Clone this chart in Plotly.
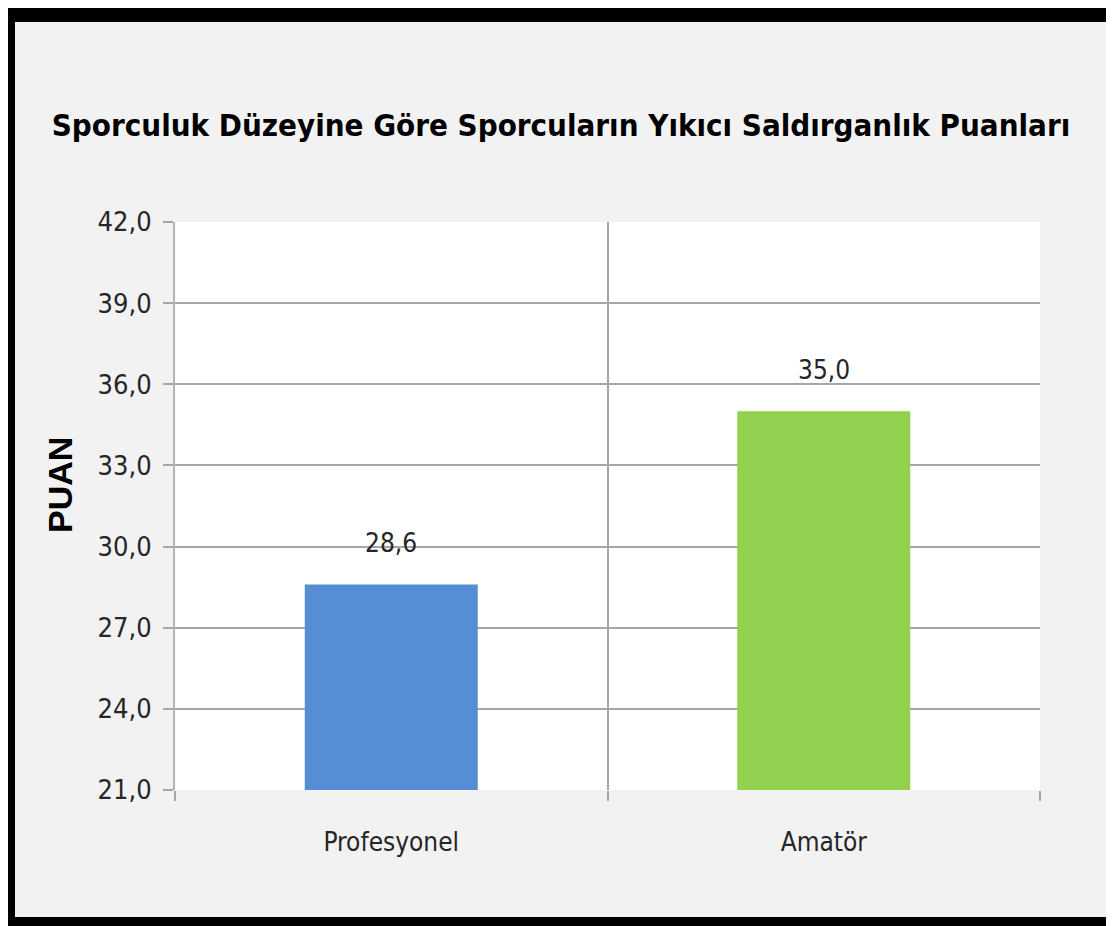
import plotly.graph_objects as go

# data
categories = ['Profesyonel', 'Amatör']
puan = [28.6, 35.0]
bar_colors = ['#558ed5', '#92d050']

title_text = 'Sporculuk Düzeyine Göre Sporcuların Yıkıcı Saldırganlık Puanları'
y_title = 'PUAN'

# the page body adds 8px around the figure
W, H = 1106, 918
L, R, T, B = 167, 1032, 214, 782   # plot area in figure pixels

narrow = 'DejaVu Sans Condensed, Liberation Sans Narrow, Arial Narrow, sans-serif'


def px(x):
    return (x - L) / (R - L)


def py(y):
    return (B - y) / (B - T)


fig = go.Figure()
fig.add_trace(go.Bar(
    x=categories,
    y=puan,
    marker=dict(color=bar_colors, line=dict(width=0)),
    width=0.4,
    showlegend=False,
))

# value labels above the bars
for c, v in zip(categories, puan):
    fig.add_annotation(x=c, y=v, text=f'{v:.1f}'.replace('.', ','),
                       showarrow=False, yanchor='bottom', yshift=24,
                       font=dict(family=narrow, size=26, color='#262626'))

# y axis title, sits a bit above the middle of the plot
fig.add_annotation(xref='paper', yref='paper', x=px(52), y=py(477),
                   text=y_title, textangle=-90, showarrow=False,
                   xanchor='center', yanchor='middle',
                   font=dict(family='Liberation Sans, Arial, sans-serif', size=34,
                             color='black', weight='bold'))

# black frame around the chart area
frame = [
    (0, 0, W, 14),
    (0, 0, 7, H),
    (1100, 0, W, H),
    (0, 909, W, H),
]
shapes = []
for x0, y0, x1, y1 in frame:
    shapes.append(dict(type='rect', xref='paper', yref='paper',
                       x0=px(x0), x1=px(x1), y0=py(y1), y1=py(y0),
                       fillcolor='black', line=dict(width=0), layer='above'))

fig.update_layout(
    width=W, height=H,
    margin=dict(l=L, r=W - R, t=T, b=H - B),
    paper_bgcolor='#f2f2f2',
    plot_bgcolor='white',
    separators=',.',
    shapes=shapes,
    title=dict(text=title_text, x=0.5, xanchor='center',
               y=1 - 117 / H, yanchor='middle',
               font=dict(family=narrow, size=31, color='black', weight='bold')),
    xaxis=dict(
        type='category',
        tickson='boundaries',
        ticks='outside', ticklen=10, tickcolor='#a6a6a6', tickwidth=2,
        ticklabelstandoff=34,
        showgrid=True, gridcolor='#a6a6a6', gridwidth=2,
        showline=False,
        tickfont=dict(family=narrow, size=26, color='#262626'),
    ),
    yaxis=dict(
        range=[21, 42], dtick=3, tick0=21,
        tickformat='.1f',
        ticks='outside', ticklen=10, tickcolor='#a6a6a6', tickwidth=2,
        ticklabelstandoff=6,
        showgrid=True, gridcolor='#a6a6a6', gridwidth=2,
        showline=True, linecolor='#b4b4b4', linewidth=2,
        zeroline=False,
        tickfont=dict(family=narrow, size=27, color='#262626'),
    ),
)

fig.write_html('out.html')
